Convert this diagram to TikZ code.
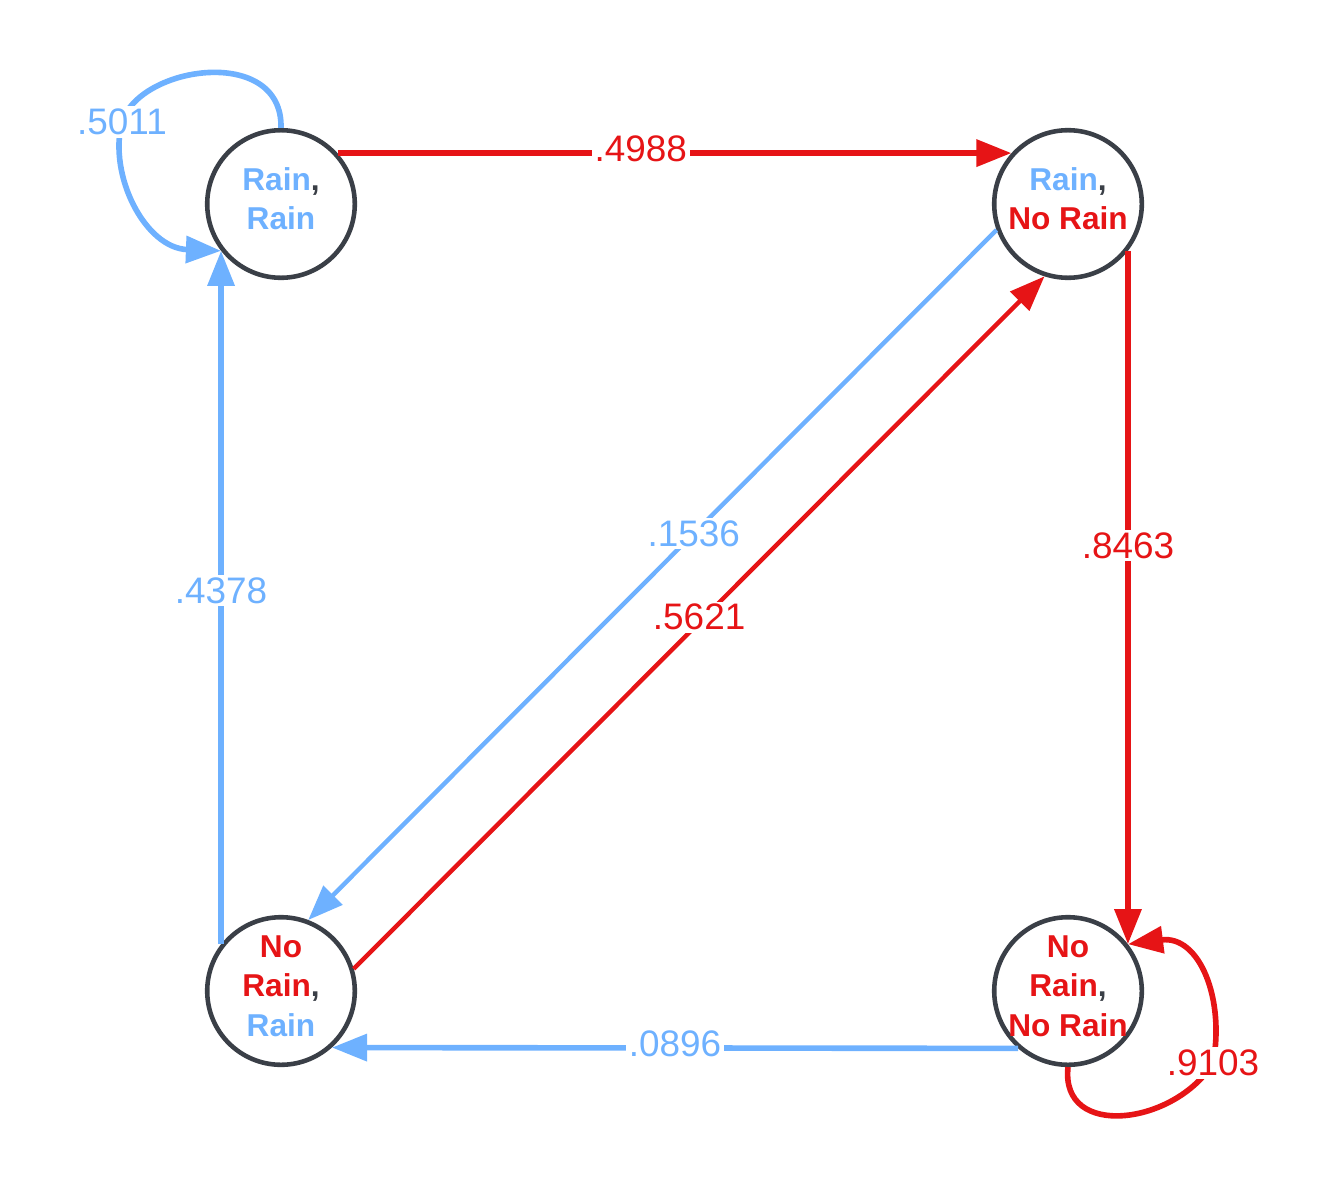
\documentclass[tikz,border=0pt]{standalone}
\usepackage{fontspec}
\setmainfont{Liberation Sans}
\usetikzlibrary{arrows.meta}

\definecolor{rblue}{RGB}{110,177,255}
\definecolor{rred}{RGB}{230,20,22}
\definecolor{cdark}{RGB}{58,63,71}

\tikzset{
  state/.style={circle, draw=cdark, line width=2.6pt, minimum size=84pt, inner sep=-10pt,
    outer sep=1.3pt, text depth=6pt, align=center, text=cdark,
    font=\bfseries\fontsize{18}{22.5}\selectfont},
  prob/.style={fill=white, inner sep=1.5pt, font=\fontsize{21}{25}\selectfont},
  redline/.style={draw=rred, line width=3.2pt, -{Triangle[length=20pt,width=15pt]}},
  blueline/.style={draw=rblue, line width=3.2pt, -{Triangle[length=20pt,width=15pt]}},
}

\begin{document}
\begin{tikzpicture}[x=0.02cm, y=-0.02cm]
    \useasboundingbox (0,0) rectangle (1341,1196);

    % The four states
    \node[state] (rr)   at (281,204)  {\textcolor{rblue}{Rain},\\\textcolor{rblue}{Rain}};
    \node[state] (rnr)  at (1068,204) {\textcolor{rblue}{Rain},\\\textcolor{rred}{No Rain}};
    \node[state] (nrr)  at (281,991)  {\textcolor{rred}{No}\\\textcolor{rred}{Rain},\\\textcolor{rblue}{Rain}};
    \node[state] (nrnr) at (1068,991) {\textcolor{rred}{No}\\\textcolor{rred}{Rain},\\\textcolor{rred}{No Rain}};

    % Transitions along the sides
    \draw[redline] (rr.42) -- (rnr.138) node[prob, text=rred, pos=0.45, yshift=2.5pt] {.4988};
    \draw[redline] (rnr.-38) -- (nrnr.38) node[prob, text=rred, pos=0.425] {.8463};
    \draw[blueline] (nrnr.-131.4) -- (nrr.-48.6) node[prob, text=rblue, pos=0.5, yshift=2.5pt] {.0896};
    \draw[blueline] (nrr.142) -- (rr.-142) node[prob, text=rblue, pos=0.51] {.4378};

    % Transitions along the diagonal
    \draw[blueline, line width=2.5pt] (rnr.200.1) -- (nrr.69.9) node[prob, text=rblue, pos=0.44] {.1536};
    \draw[redline, line width=2.5pt] (nrr.17.6) -- (rnr.252.4) node[prob, text=rred, pos=0.5, yshift=3pt] {.5621};

    % Self loops
    \draw[blueline] (rr.90) .. controls (283,45) and (140,65) .. (122,122)
        node[prob, text=rblue] {.5011}
        .. controls (108,175) and (145,248) .. (rr.-142);
    \draw[redline] (nrnr.-90) .. controls (1060,1140) and (1175,1125) .. (1213,1063)
        node[prob, text=rred] {.9103}
        .. controls (1225,1000) and (1200,935) .. (nrnr.38);
\end{tikzpicture}
\end{document}
